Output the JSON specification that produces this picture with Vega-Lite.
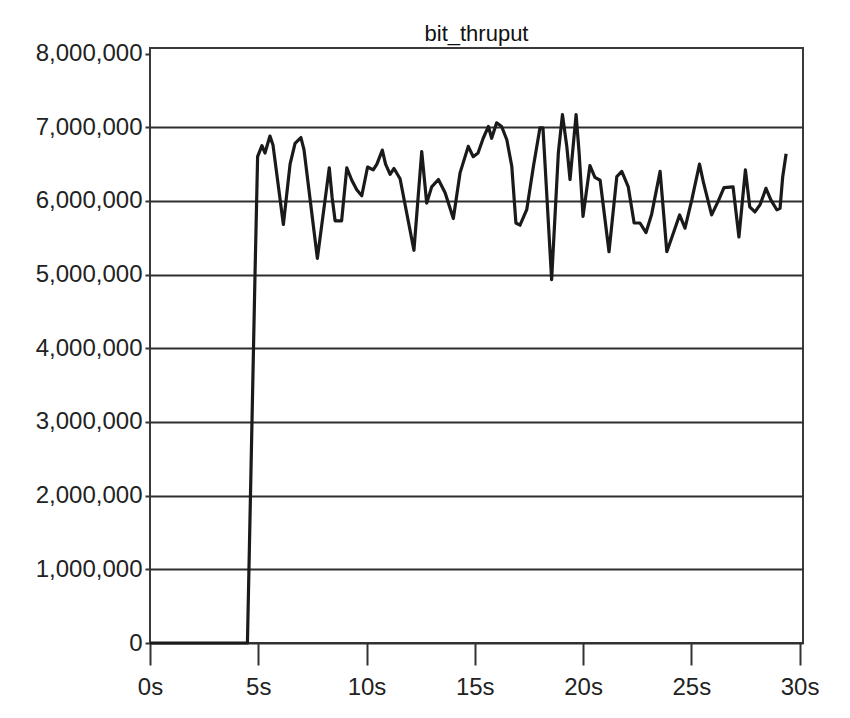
{
  "$schema": "https://vega.github.io/schema/vega-lite/v6.json",
  "width": 653,
  "height": 595,
  "autosize": {"type": "none"},
  "padding": {"left": 150, "top": 48, "right": 47, "bottom": 75},
  "background": "white",
  "config": {
    "font": "Liberation Sans",
    "view": {"stroke": "#3a3a3a", "strokeWidth": 2},
    "axis": {"labelFont": "Liberation Sans", "labelColor": "#222222", "labelFontSize": 24, "domain": false, "tickColor": "#333333", "tickWidth": 2, "gridColor": "#2e2e2e", "gridWidth": 2}
  },
  "title": {"text": "bit_thruput", "font": "Liberation Sans", "fontSize": 22, "fontWeight": "normal", "color": "#111111", "anchor": "middle", "baseline": "alphabetic", "offset": 10, "dy": 31},
  "data": {"values": [
    {"t": 0, "v": 0}, {"t": 4.5, "v": 0}, {"t": 4.85, "v": 5000000}, {"t": 4.97, "v": 6600000},
    {"t": 5.17, "v": 6750000}, {"t": 5.31, "v": 6650000}, {"t": 5.54, "v": 6880000}, {"t": 5.68, "v": 6760000},
    {"t": 6.16, "v": 5680000}, {"t": 6.47, "v": 6500000}, {"t": 6.7, "v": 6780000}, {"t": 6.97, "v": 6860000},
    {"t": 7.11, "v": 6700000}, {"t": 7.73, "v": 5220000}, {"t": 8.08, "v": 6000000}, {"t": 8.28, "v": 6450000},
    {"t": 8.41, "v": 6050000}, {"t": 8.55, "v": 5730000}, {"t": 8.85, "v": 5730000}, {"t": 9.09, "v": 6450000},
    {"t": 9.32, "v": 6280000}, {"t": 9.55, "v": 6150000}, {"t": 9.78, "v": 6070000}, {"t": 10.05, "v": 6460000},
    {"t": 10.31, "v": 6420000}, {"t": 10.48, "v": 6500000}, {"t": 10.73, "v": 6690000}, {"t": 10.88, "v": 6500000},
    {"t": 11.09, "v": 6360000}, {"t": 11.27, "v": 6440000}, {"t": 11.55, "v": 6300000}, {"t": 12.19, "v": 5330000},
    {"t": 12.55, "v": 6670000}, {"t": 12.78, "v": 5970000}, {"t": 13.01, "v": 6190000}, {"t": 13.32, "v": 6290000},
    {"t": 13.63, "v": 6110000}, {"t": 14.01, "v": 5760000}, {"t": 14.32, "v": 6380000}, {"t": 14.7, "v": 6740000},
    {"t": 14.93, "v": 6600000}, {"t": 15.15, "v": 6650000}, {"t": 15.39, "v": 6850000}, {"t": 15.63, "v": 7010000},
    {"t": 15.78, "v": 6850000}, {"t": 16.01, "v": 7060000}, {"t": 16.24, "v": 7010000}, {"t": 16.48, "v": 6830000},
    {"t": 16.71, "v": 6470000}, {"t": 16.9, "v": 5700000}, {"t": 17.09, "v": 5670000}, {"t": 17.4, "v": 5880000},
    {"t": 17.71, "v": 6470000}, {"t": 18.01, "v": 6990000}, {"t": 18.15, "v": 6990000}, {"t": 18.55, "v": 4930000},
    {"t": 18.86, "v": 6650000}, {"t": 19.05, "v": 7170000}, {"t": 19.25, "v": 6740000}, {"t": 19.4, "v": 6290000},
    {"t": 19.68, "v": 7170000}, {"t": 19.82, "v": 6650000}, {"t": 20.0, "v": 5790000}, {"t": 20.32, "v": 6480000},
    {"t": 20.55, "v": 6320000}, {"t": 20.79, "v": 6280000}, {"t": 21.2, "v": 5310000}, {"t": 21.56, "v": 6330000},
    {"t": 21.79, "v": 6400000}, {"t": 22.09, "v": 6190000}, {"t": 22.36, "v": 5700000}, {"t": 22.63, "v": 5700000},
    {"t": 22.91, "v": 5570000}, {"t": 23.17, "v": 5820000}, {"t": 23.56, "v": 6400000}, {"t": 23.87, "v": 5310000},
    {"t": 24.17, "v": 5560000}, {"t": 24.46, "v": 5810000}, {"t": 24.71, "v": 5630000}, {"t": 25.02, "v": 6010000},
    {"t": 25.38, "v": 6500000}, {"t": 25.57, "v": 6240000}, {"t": 25.94, "v": 5810000}, {"t": 26.25, "v": 6000000},
    {"t": 26.51, "v": 6180000}, {"t": 26.93, "v": 6190000}, {"t": 27.2, "v": 5510000}, {"t": 27.5, "v": 6420000},
    {"t": 27.7, "v": 5920000}, {"t": 27.94, "v": 5850000}, {"t": 28.18, "v": 5950000}, {"t": 28.45, "v": 6170000},
    {"t": 28.68, "v": 6010000}, {"t": 28.95, "v": 5880000}, {"t": 29.1, "v": 5900000}, {"t": 29.22, "v": 6320000},
    {"t": 29.38, "v": 6640000}
  ]},
  "mark": {"type": "line", "color": "#1a1a1a", "strokeWidth": 3.2, "strokeJoin": "round", "clip": false},
  "encoding": {
    "x": {"field": "t", "type": "quantitative", "title": null,
      "scale": {"domain": [0, 30.16], "nice": false, "zero": false},
      "axis": {"values": [0, 5, 10, 15, 20, 25, 30], "grid": false, "tickSize": 22, "labelPadding": 10, "labelExpr": "datum.value + 's'", "labelFlush": false}},
    "y": {"field": "v", "type": "quantitative", "title": null,
      "scale": {"domain": [0, 8075000], "nice": false},
      "axis": {"values": [0, 1000000, 2000000, 3000000, 4000000, 5000000, 6000000, 7000000, 8000000], "grid": true,
        "gridOpacity": {"condition": {"test": "datum.value > 7500000", "value": 0}, "value": 1},
        "tickSize": 5, "labelPadding": 3, "format": ",d", "labelFlush": false}}
  }
}
